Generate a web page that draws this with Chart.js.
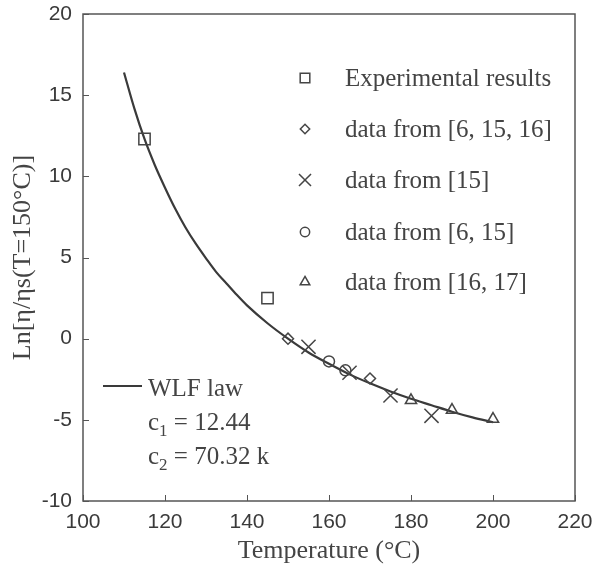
<!DOCTYPE html>
<html lang="en">
<head>
  <meta charset="UTF-8">
  <title>WLF law fit</title>
  <script src="https://cdn.jsdelivr.net/npm/chart.js@4.4.0/dist/chart.umd.min.js"></script>
  <style>
    html, body { margin: 0; padding: 0; background: #fff; }
  </style>
</head>
<body>
  <canvas id="wlfChart" width="594" height="577"></canvas>

  <script>
    // data
    const expT = [115, 145];
    const expLn = [12.3, 2.5];
    const ref61516T = [150, 170];
    const ref61516Ln = [0, -2.45];
    const ref15T = [155, 165, 175, 185];
    const ref15Ln = [-0.5, -2.1, -3.5, -4.75];
    const ref615T = [160, 164];
    const ref615Ln = [-1.4, -1.95];
    const ref1617T = [180, 190, 200];
    const ref1617Ln = [-3.8, -4.4, -4.95];

    // WLF curve (denser where it is steep)
    const wlfT = [110, 112.5, 115, 117.5, 120, 122.5, 125, 127.5, 130, 132.5, 135, 137.5, 140, 145, 150, 155, 160, 165, 170, 175, 180, 185, 190, 195, 200];
    const wlfLn = [16.4, 14.2, 12.3, 10.7, 9.3, 8.0, 6.85, 5.85, 4.95, 4.1, 3.4, 2.7, 2.05, 0.95, 0, -0.85, -1.55, -2.2, -2.75, -3.25, -3.7, -4.1, -4.5, -4.85, -5.15];

    const xTicks = [100, 120, 140, 160, 180, 200, 220];
    const yTicks = [-10, -5, 0, 5, 10, 15, 20];

    const legendLabels = ['Experimental results', 'data from [6, 15, 16]', 'data from [15]', 'data from [6, 15]', 'data from [16, 17]'];

    const ink = '#454545';
    const toPoints = (xs, ys) => xs.map((x, i) => ({ x: x, y: ys[i] }));

    const markerSets = [
      { label: legendLabels[0], data: toPoints(expT, expLn), pointStyle: 'rect', pointRadius: 8 },
      { label: legendLabels[1], data: toPoints(ref61516T, ref61516Ln), pointStyle: 'rectRot', pointRadius: 5.5 },
      { label: legendLabels[2], data: toPoints(ref15T, ref15Ln), pointStyle: 'crossRot', pointRadius: 10 },
      { label: legendLabels[3], data: toPoints(ref615T, ref615Ln), pointStyle: 'circle', pointRadius: 5.5 },
      { label: legendLabels[4], data: toPoints(ref1617T, ref1617Ln), pointStyle: 'triangle', pointRadius: 6.5 },
    ].map(d => Object.assign(d, {
      showLine: false,
      borderColor: ink,
      backgroundColor: 'rgba(0,0,0,0)',
      pointBorderWidth: 1.5,
    }));

    const wlfSet = {
      label: 'WLF law',
      data: toPoints(wlfT, wlfLn),
      showLine: true,
      borderColor: '#3a3a3a',
      borderWidth: 2.2,
      pointRadius: 0,
      cubicInterpolationMode: 'monotone',
    };

    // frame, inward ticks, axis titles and the two legends
    const decorations = {
      id: 'decorations',
      afterDraw(chart) {
        const { ctx, chartArea: a, scales: { x, y } } = chart;
        ctx.save();

        ctx.strokeStyle = '#555';
        ctx.lineWidth = 1.5;
        ctx.strokeRect(a.left, a.top, a.right - a.left, a.bottom - a.top);

        ctx.lineWidth = 1;
        ctx.beginPath();
        xTicks.forEach(v => {
          const px = Math.round(x.getPixelForValue(v)) + 0.5;
          ctx.moveTo(px, a.bottom);
          ctx.lineTo(px, a.bottom - 6);
        });
        yTicks.forEach(v => {
          const py = Math.round(y.getPixelForValue(v)) + 0.5;
          ctx.moveTo(a.left, py);
          ctx.lineTo(a.left + 6, py);
        });
        ctx.stroke();

        // axis titles
        ctx.fillStyle = '#444';
        ctx.font = '26px "Liberation Serif", "Times New Roman", serif';
        ctx.textAlign = 'center';
        ctx.textBaseline = 'middle';
        ctx.fillText('Temperature (°C)', (a.left + a.right) / 2, 551);
        ctx.save();
        ctx.translate(23, (a.top + a.bottom) / 2);
        ctx.rotate(-Math.PI / 2);
        ctx.fillText('Ln[η/ηs(T=150°C)]', 0, 0);
        ctx.restore();

        // markers legend
        ctx.font = '25px "Liberation Serif", "Times New Roman", serif';
        ctx.textAlign = 'left';
        const rows = [78, 129, 180, 232, 282];
        markerSets.forEach((d, i) => {
          ctx.strokeStyle = ink;
          ctx.fillStyle = 'rgba(0,0,0,0)';
          ctx.lineWidth = 1.5;
          Chart.helpers.drawPoint(ctx, {
            pointStyle: d.pointStyle,
            radius: d.pointRadius * 0.85,
            rotation: 0,
            borderWidth: 1.5,
          }, 305, rows[i]);
          ctx.fillStyle = '#444';
          ctx.fillText(d.label, 345, rows[i] + 1);
        });

        // WLF legend
        ctx.strokeStyle = '#3a3a3a';
        ctx.lineWidth = 2.2;
        ctx.beginPath();
        ctx.moveTo(103, 386);
        ctx.lineTo(142, 386);
        ctx.stroke();

        ctx.fillStyle = '#444';
        ctx.textBaseline = 'alphabetic';
        const serif = '"Liberation Serif", "Times New Roman", serif';
        ctx.font = '25px ' + serif;
        ctx.fillText('WLF law', 148, 396);
        const withSub = (sub, rest, yBase) => {
          ctx.font = '25px ' + serif;
          ctx.fillText('c', 148, yBase);
          let cx = 148 + ctx.measureText('c').width;
          ctx.font = '17px ' + serif;
          ctx.fillText(sub, cx, yBase + 6);
          cx += ctx.measureText(sub).width;
          ctx.font = '25px ' + serif;
          ctx.fillText(rest, cx, yBase);
        };
        withSub('1', ' = 12.44', 430);
        withSub('2', ' = 70.32 k', 464);

        ctx.restore();
      }
    };

    const tickFont = { family: '"Liberation Sans", Arial, sans-serif', size: 21 };

    const noEdgePadding = s => {
      s.paddingTop = 0;
      s.paddingBottom = 0;
      s.paddingLeft = 0;
      s.paddingRight = 0;
    };

    new Chart(document.getElementById('wlfChart').getContext('2d'), {
      type: 'scatter',
      data: { datasets: markerSets.concat([wlfSet]) },
      options: {
        responsive: false,
        animation: false,
        devicePixelRatio: 1,
        layout: { padding: { top: 14, right: 19, left: 0, bottom: 0 } },
        scales: {
          x: {
            type: 'linear',
            min: 100,
            max: 220,
            afterFit: s => { s.height = 76; noEdgePadding(s); },
            afterBuildTicks: s => { s.ticks = xTicks.map(v => ({ value: v })); },
            grid: { display: false, drawTicks: false },
            border: { display: false },
            ticks: { font: tickFont, color: '#3a3a3a', padding: 9, maxRotation: 0 },
          },
          y: {
            type: 'linear',
            min: -10,
            max: 20,
            afterFit: s => { s.width = 83; noEdgePadding(s); },
            afterBuildTicks: s => { s.ticks = yTicks.map(v => ({ value: v })); },
            grid: { display: false, drawTicks: false },
            border: { display: false },
            ticks: { font: tickFont, color: '#3a3a3a', padding: 11 },
          },
        },
        plugins: {
          legend: { display: false },
          tooltip: { enabled: false },
        },
      },
      plugins: [decorations],
    });
  </script>
</body>
</html>
